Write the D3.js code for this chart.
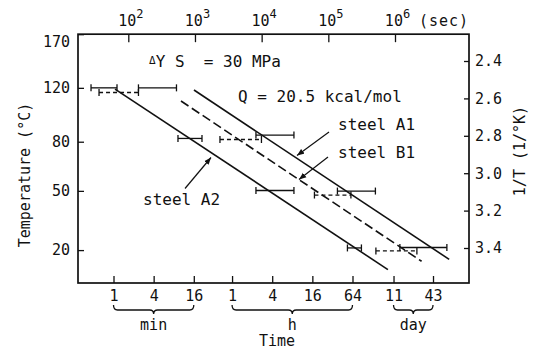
<!DOCTYPE html>
<html>
<head>
<meta charset="utf-8">
<script src="https://cdn.jsdelivr.net/npm/d3@7"></script>
<style>
  html, body { margin: 0; padding: 0; background: #fff; }
  svg { display: block; color: #111; }
  text { font-family: "DejaVu Sans Mono", "Liberation Mono", monospace; fill: #111; }
  .tick text { font-size: 15px; }
  .tick line { stroke-width: 1.3; }
</style>
</head>
<body>
<svg id="chart" width="536" height="352"></svg>
<script>
// Left axis: temperature (°C), laid out on a 1000/T scale
const tempTicks = [170, 120, 80, 50, 20];
// Right axis: 1000/T (1/K)
const invTTicks = [2.4, 2.6, 2.8, 3.0, 3.2, 3.4];
// Top axis: time in seconds
const secTicks = [1e2, 1e3, 1e4, 1e5, 1e6];
// Bottom axis: the same time in practical units
const timeTickLabels = ["1", "4", "16", "1", "4", "16", "64", "11", "43"];
const timeTickSeconds = [60, 240, 960, 3600, 14400, 57600, 230400, 950400, 3715200];
const unitNames = ["min", "h", "day"];
const unitFirstTick = [0, 3, 7];
const unitLastTick = [2, 6, 8];

// Scatter in time to reach ΔYS = 30 MPa: [°C, shortest s, longest s]
const barsA2 = [[120, 27.6, 67.7], [82.2, 556, 1274], [50.2, 8213, 30500], [21.0, 193400, 313600]];
const barsB1 = [[116.2, 36.4, 142], [81.5, 2370, 9931], [47.7, 61900, 218200], [19.6, 517000, 2130000]];
const barsA1 = [[120, 142, 528], [84.5, 8213, 30500], [49.9, 136900, 508300], [21.2, 1184000, 6000000]];

// Arrhenius lines (Q = 20.5 kcal/mol), end points [s, °C]
const lineA1 = [[966, 118.2], [6494000, 15.8]];
const lineB1 = [[617, 109.4], [2505000, 14.95]];
const lineA2 = [[63.2, 119.0], [783000, 11.3]];

const plot = { left: 78, right: 469, bottom: 283 };
const inv = c => 1000 / (c + 273.15);

const svg = d3.select("#chart");
const x = d3.scaleLog().domain([1e2, 1e6]).range([128.3, 395]);
const y = d3.scaleLinear().domain([2.4, 3.4]).range([61, 248]);
const yTop = y(inv(tempTicks[0]));

// arrow head for the label pointers
svg.append("defs").append("marker")
  .attr("id", "ah").attr("viewBox", "0 0 10 10")
  .attr("refX", 10).attr("refY", 5)
  .attr("markerWidth", 6).attr("markerHeight", 6)
  .attr("orient", "auto")
  .append("path").attr("d", "M0,1L10,5L0,9Z").attr("fill", "#111");

// frame
svg.append("rect")
  .attr("x", plot.left).attr("y", yTop)
  .attr("width", plot.right - plot.left).attr("height", plot.bottom - yTop)
  .attr("fill", "none").attr("stroke", "#111").attr("stroke-width", 1.7);

// left axis (temperature)
const gL = svg.append("g").attr("transform", `translate(${plot.left},0)`)
  .call(d3.axisLeft(y).tickValues(tempTicks.map(inv))
    .tickFormat((d, i) => tempTicks[i])
    .tickSizeInner(-6).tickSizeOuter(0).tickPadding(8));
gL.select(".domain").remove();
gL.selectAll(".tick text").filter((d, i) => i === 0).attr("dy", "0.8em");

// right axis (1000/T)
const gR = svg.append("g").attr("transform", `translate(${plot.right},0)`)
  .call(d3.axisRight(y).tickValues(invTTicks)
    .tickFormat(d3.format(".1f"))
    .tickSizeInner(-5).tickSizeOuter(0).tickPadding(6));
gR.select(".domain").remove();

// top axis (seconds, powers of ten)
const gT = svg.append("g").attr("transform", `translate(0,${yTop})`)
  .call(d3.axisTop(x).tickValues(secTicks).tickFormat("")
    .tickSizeInner(-8).tickSizeOuter(0).tickPadding(8));
gT.select(".domain").remove();
gT.selectAll(".tick text").each(function (d) {
  const t = d3.select(this).attr("dx", 2);
  t.append("tspan").text("10");
  t.append("tspan").attr("dy", -8).attr("font-size", 12).text(Math.round(Math.log10(d)));
});
svg.append("text").attr("x", 419).attr("y", yTop - 8)
  .attr("font-size", 15).attr("letter-spacing", 1).text("(sec)");

// bottom axis (min / h / day)
const gB = svg.append("g").attr("transform", `translate(0,${plot.bottom})`)
  .call(d3.axisBottom(x).tickValues(timeTickSeconds)
    .tickFormat((d, i) => timeTickLabels[i])
    .tickSizeInner(-7).tickSizeOuter(0).tickPadding(7));
gB.select(".domain").remove();

// braces grouping the bottom ticks by unit
const yb0 = 305, yb1 = 310, yb2 = 314;
unitNames.forEach((name, i) => {
  const xa = x(timeTickSeconds[unitFirstTick[i]]);
  const xb = x(timeTickSeconds[unitLastTick[i]]);
  const xc = (xa + xb) / 2;
  const p = `M${xa},${yb0} Q${xa},${yb1} ${xa + 4},${yb1} L${xc - 4},${yb1} ` +
            `Q${xc},${yb1} ${xc},${yb2} Q${xc},${yb1} ${xc + 4},${yb1} ` +
            `L${xb - 4},${yb1} Q${xb},${yb1} ${xb},${yb0}`;
  svg.append("path").attr("d", p).attr("fill", "none")
    .attr("stroke", "#111").attr("stroke-width", 1.3);
  svg.append("text").attr("x", xc).attr("y", 330)
    .attr("text-anchor", "middle").attr("font-size", 15).text(name);
});

// axis titles
svg.append("text").attr("x", 277).attr("y", 346)
  .attr("text-anchor", "middle").attr("font-size", 15).text("Time");
svg.append("text")
  .attr("transform", "translate(30,175) rotate(-90)")
  .attr("text-anchor", "middle").attr("font-size", 15).text("Temperature (°C)");
svg.append("text")
  .attr("transform", "translate(525,151) rotate(-90)")
  .attr("text-anchor", "middle").attr("font-size", 15).text("1/T (1/°K)");

// fitted lines
const line = d3.line().x(d => x(d[0])).y(d => y(inv(d[1])));
const series = [
  { pts: lineA1, bars: barsA1, dash: null, barDash: null },
  { pts: lineB1, bars: barsB1, dash: "9,4", barDash: "4,3" },
  { pts: lineA2, bars: barsA2, dash: null, barDash: null }
];
svg.append("g").selectAll("path").data(series).join("path")
  .attr("d", s => line(s.pts))
  .attr("fill", "none").attr("stroke", "#111").attr("stroke-width", 1.6)
  .attr("stroke-dasharray", s => s.dash);

// horizontal scatter bars with end caps
series.forEach(s => {
  const g = svg.append("g").attr("stroke", "#111").attr("stroke-width", 1.3).attr("fill", "none");
  g.selectAll("line.bar").data(s.bars).join("line").attr("class", "bar")
    .attr("x1", d => x(d[1])).attr("x2", d => x(d[2]))
    .attr("y1", d => y(inv(d[0]))).attr("y2", d => y(inv(d[0])))
    .attr("stroke-dasharray", s.barDash);
  const caps = s.bars.flatMap(d => [[d[0], d[1]], [d[0], d[2]]]);
  g.selectAll("line.cap").data(caps).join("line").attr("class", "cap")
    .attr("x1", d => x(d[1])).attr("x2", d => x(d[1]))
    .attr("y1", d => y(inv(d[0])) - 3.5).attr("y2", d => y(inv(d[0])) + 3.5);
});

// annotations
const ys = svg.append("text").attr("x", 149).attr("y", 67)
  .attr("font-size", 16).style("white-space", "pre");
ys.append("tspan").attr("font-size", 11).attr("dy", -3).text("Δ");
ys.append("tspan").attr("dy", 3).text("Y S  = 30 MPa");
svg.append("text").attr("x", 238).attr("y", 102)
  .attr("font-size", 16).text("Q = 20.5 kcal/mol");

const labels = [
  { text: "steel A1", x: 338, y: 130, from: [329, 132], to: [297, 155.5] },
  { text: "steel B1", x: 338, y: 158, from: [328, 157], to: [299, 179.5] },
  { text: "steel A2", x: 143, y: 205, from: [185, 188.5], to: [211, 157.5] }
];
labels.forEach(l => {
  svg.append("text").attr("x", l.x).attr("y", l.y)
    .attr("font-size", 16).style("white-space", "pre").text(l.text);
  svg.append("line")
    .attr("x1", l.from[0]).attr("y1", l.from[1])
    .attr("x2", l.to[0]).attr("y2", l.to[1])
    .attr("stroke", "#111").attr("stroke-width", 1.2)
    .attr("marker-end", "url(#ah)");
});
</script>
</body>
</html>
